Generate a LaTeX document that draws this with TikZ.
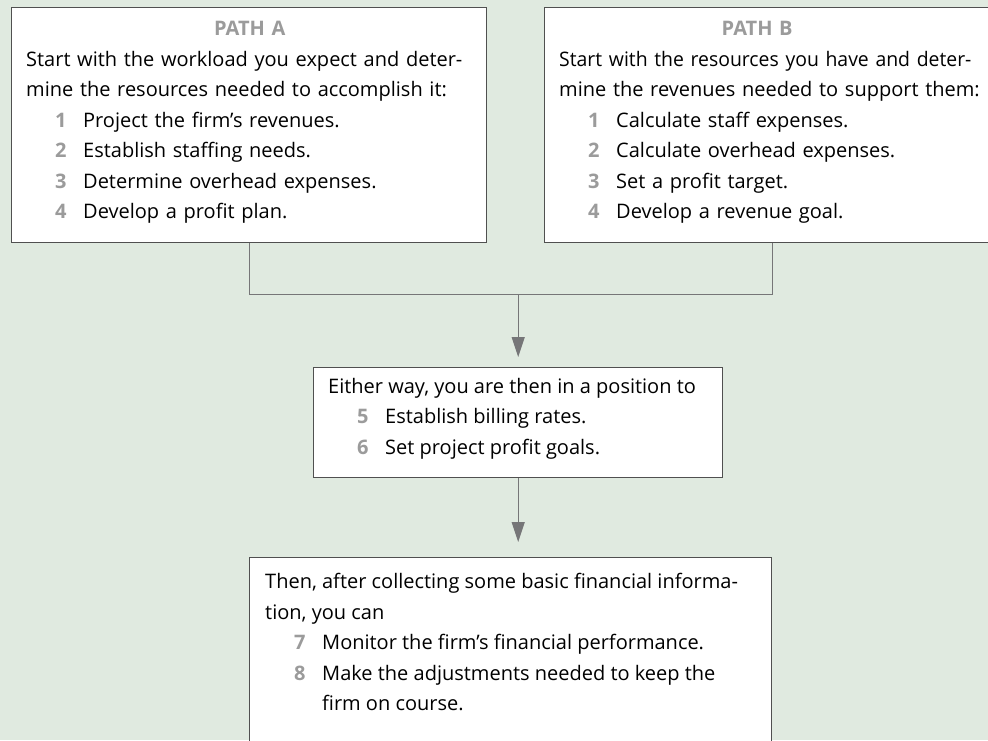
\documentclass[tikz,border=0pt]{standalone}
\usepackage{fontspec}
\setmainfont{Open Sans}
\usetikzlibrary{arrows.meta,positioning}
\definecolor{bgpanel}{RGB}{224,234,224}
\definecolor{framegray}{RGB}{80,80,80}
\definecolor{numgray}{RGB}{155,155,155}
\definecolor{linkgray}{RGB}{118,118,120}
\newcommand{\stepno}[2]{\hspace*{29pt}\makebox[28pt][l]{\textcolor{numgray}{\bfseries #1}}#2}
\newcommand{\pathhead}[2]{\makebox[#1][c]{\textcolor{numgray}{\bfseries #2}}}
\begin{document}
\begin{tikzpicture}[x=1pt, y=-1pt, font=\fontsize{20}{30.5}\selectfont,
  panel/.style={draw=framegray, line width=1.4pt, fill=white, anchor=north west, inner sep=0pt},
  txt/.style={anchor=north west, align=left, inner sep=0pt},
  link/.style={draw=linkgray, line width=1.2pt},
  arr/.style={link, -{Triangle[length=20pt, width=13pt]}}]
\useasboundingbox (0,0) rectangle (988,740);
\clip (0,0) rectangle (988,740);
\fill[bgpanel] (0,0) rectangle (988,740);
% the two starting paths
\node[panel, minimum width=475pt, minimum height=235pt] (pathA) at (11,7) {};
\node[panel, minimum width=456pt, minimum height=235pt] (pathB) at (544,7) {};
\node[txt, text width=460pt] (pathAtext) at (26,21) {%
\pathhead{447pt}{PATH A}\\
Start with the workload you expect and deter-\\
mine the resources needed to accomplish it:\\
\stepno{1}{Project the firm’s revenues.}\\
\stepno{2}{Establish staffing needs.}\\
\stepno{3}{Determine overhead expenses.}\\
\stepno{4}{Develop a profit plan.}};
\node[txt, text width=460pt] (pathBtext) at (559,21) {%
\pathhead{396pt}{PATH B}\\
{\addfontfeature{FakeStretch=0.97}Start with the resources you have and deter-}\\
mine the revenues needed to support them:\\
\stepno{1}{Calculate staff expenses.}\\
\stepno{2}{Calculate overhead expenses.}\\
\stepno{3}{Set a profit target.}\\
\stepno{4}{Develop a revenue goal.}};
% middle step
\node[panel, minimum width=409pt, minimum height=110pt] (either) at (313,367) {};
\node[txt] (eithertext) at (328,378) {%
Either way, you are then in a position to\\
\stepno{5}{Establish billing rates.}\\
\stepno{6}{Set project profit goals.}};
% last step
\node[panel, minimum width=522pt, minimum height=200pt] (monitor) at (249,557) {};
\node[txt] (monitortext) at (265,573) {%
Then, after collecting some basic financial informa-\\
tion, you can\\
\stepno{7}{Monitor the firm’s financial performance.}\\
\stepno{8}{Make the adjustments needed to keep the}\\
\hspace*{57pt}firm on course.};
% connectors
\coordinate (junc) at ([yshift=-51pt]pathA.south);
\draw[link] (pathA.south) -- (junc) -| (pathB.south);
\draw[arr, shorten >=10pt] (either.north |- junc) -- (either.north);
\draw[arr, shorten >=15pt] (either.south) -- (either.south |- monitor.north);
\end{tikzpicture}
\end{document}
